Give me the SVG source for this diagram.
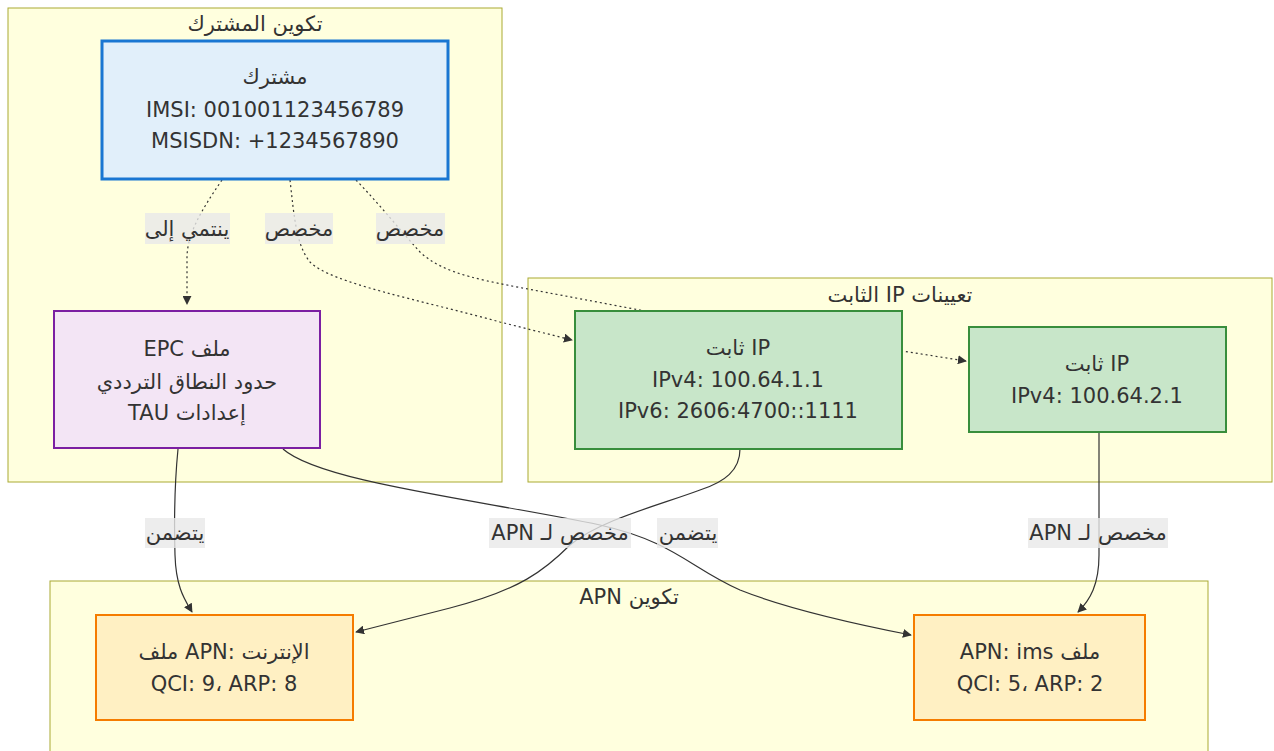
<svg xmlns="http://www.w3.org/2000/svg" width="1274" height="751" viewBox="0 0 1274 751">
<style>
text{font-family:"DejaVu Sans","Noto Sans",sans-serif;font-size:21px;fill:#333;text-anchor:middle}
.cluster{fill:#ffffde;stroke:#aaaa33;stroke-width:1}
.edge{fill:none;stroke:#333;stroke-width:1.2}
.dot{stroke-dasharray:2 3}
.lbl{fill:rgba(232,232,232,0.8)}
</style>
<defs>
<marker id="arr" viewBox="0 0 10 10" refX="9" refY="5" markerWidth="9" markerHeight="9" markerUnits="userSpaceOnUse" orient="auto">
<path d="M0,0 L10,5 L0,10 z" fill="#333"/>
</marker>
</defs>
<g id="clusters">
<g id="cluster-subscriber"><rect class="cluster" x="8" y="8" width="494" height="474"/><text x="255" y="31">تكوين المشترك</text></g>
<g id="cluster-staticip"><rect class="cluster" x="528" y="278" width="744" height="204"/><text x="900" y="302">الثابت IP تعيينات</text></g>
<g id="cluster-apn"><rect class="cluster" x="50" y="581" width="1158" height="190"/><text x="629" y="604">APN تكوين</text></g>
</g>
<g id="connectors">
<path class="edge dot" d="M222,180 C200,212 187,235 187,258 L187,304" marker-end="url(#arr)"/>
<path class="edge dot" d="M290,180 C294,215 296,245 310,262 C330,283 420,300 500,322 L572,340" marker-end="url(#arr)"/>
<path class="edge dot" d="M356,180 C380,205 400,230 420,252 C445,275 480,280 560,295 L650,312 C760,330 860,345 902,351 L966,361" marker-end="url(#arr)"/>
<path class="edge" d="M178,449 C174,490 174,520 175,555 C176,588 185,600 192,612" marker-end="url(#arr)"/>
<path class="edge" d="M283,449 C320,482 480,500 600,525 C675,542 690,568 740,590 C790,610 860,625 911,635" marker-end="url(#arr)"/>
<path class="edge" d="M740,449 C740,470 725,482 700,490 C660,505 600,520 570,545 C545,570 520,590 450,608 L356,632" marker-end="url(#arr)"/>
<path class="edge" d="M1099,433 L1099,555 C1099,585 1090,600 1078,612" marker-end="url(#arr)"/>
<g id="edge-labels">
<rect class="lbl" x="145" y="213" width="85" height="31"/><text x="187" y="236">ينتمي إلى</text>
<rect class="lbl" x="265" y="213" width="68" height="31"/><text x="299" y="236">مخصص</text>
<rect class="lbl" x="376" y="213" width="69" height="31"/><text x="410" y="236">مخصص</text>
<rect class="lbl" x="145" y="518" width="60" height="30"/><text x="175" y="540">يتضمن</text>
<rect class="lbl" x="489" y="518" width="142" height="30"/><text x="560" y="540">APN مخصص لـ</text>
<rect class="lbl" x="657" y="518" width="61" height="30"/><text x="688" y="540">يتضمن</text>
<rect class="lbl" x="1028" y="518" width="140" height="30"/><text x="1098" y="540">APN مخصص لـ</text>
</g>
</g>
<g id="node-subscriber"><rect x="102" y="41" width="346" height="138" fill="#e1effa" stroke="#1976d2" stroke-width="3"/>
<text x="275" y="84">مشترك</text><text x="275" y="117">IMSI: 001001123456789</text><text x="275" y="148">MSISDN: +1234567890</text></g>
<g id="node-epc"><rect x="54" y="311" width="266" height="137" fill="#f3e5f5" stroke="#7b1fa2" stroke-width="2"/>
<text x="187" y="356">EPC ملف</text><text x="187" y="389">حدود النطاق الترددي</text><text x="187" y="420">TAU إعدادات</text></g>
<g id="node-ip1"><rect x="575" y="311" width="327" height="138" fill="#c8e6c9" stroke="#388e3c" stroke-width="2"/>
<text x="738" y="355">ثابت IP</text><text x="738" y="387">IPv4: 100.64.1.1</text><text x="738" y="418">IPv6: 2606:4700::1111</text></g>
<g id="node-ip2"><rect x="969" y="327" width="257" height="105" fill="#c8e6c9" stroke="#388e3c" stroke-width="2"/>
<text x="1097" y="371">ثابت IP</text><text x="1097" y="403">IPv4: 100.64.2.1</text></g>
<g id="node-apn-internet"><rect x="96" y="615" width="257" height="105" fill="#fff0c3" stroke="#f57c00" stroke-width="2"/>
<text x="224" y="659">ملف APN: الإنترنت</text><text x="224" y="691">QCI: 9، ARP: 8</text></g>
<g id="node-apn-ims"><rect x="914" y="615" width="231" height="105" fill="#fff0c3" stroke="#f57c00" stroke-width="2"/>
<text x="1030" y="659">APN: ims ملف</text><text x="1030" y="691">QCI: 5، ARP: 2</text></g>
</svg>
